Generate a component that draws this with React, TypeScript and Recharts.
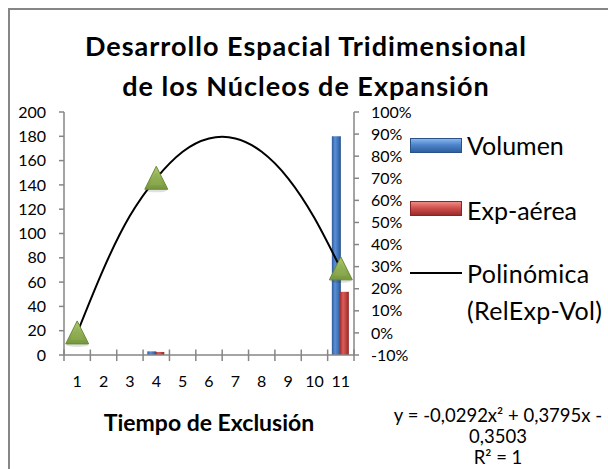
import React from 'react';
import { ComposedChart, Bar, Line, XAxis, YAxis, ReferenceLine } from 'recharts';

// ---- data ----
const categories = ['1', '2', '3', '4', '5', '6', '7', '8', '9', '10', '11'];
const volumen: (number | null)[] = [null, null, null, 3, null, null, null, null, null, null, 180];
const expAerea: (number | null)[] = [null, null, null, 2.5, null, null, null, null, null, null, 52];
const relExpVol: (number | null)[] = [0.0, null, null, 0.7, null, null, null, null, null, null, 0.29];
const polinomica: number[] = [0.0, 0.29, 0.53, 0.7, 0.82, 0.88, 0.88, 0.82, 0.7, 0.52, 0.29];
const leftTicks = [0, 20, 40, 60, 80, 100, 120, 140, 160, 180, 200];
const rightTicks = [-0.1, 0, 0.1, 0.2, 0.3, 0.4, 0.5, 0.6, 0.7, 0.8, 0.9, 1.0];
const boundaryTicks = [0.5, 1.5, 2.5, 3.5, 4.5, 5.5, 6.5, 7.5, 8.5, 9.5, 10.5, 11.5];

const titleLines = ['Desarrollo Espacial Tridimensional', 'de los Núcleos de Expansión'];
const xTitle = 'Tiempo de Exclusión';
const equationLines = ['y = -0,0292x² + 0,3795x -', '0,3503', 'R² = 1'];

const data = categories.map((c, i) => ({
  cat: c,
  pos: i + 1,
  volumen: volumen[i],
  expAerea: expAerea[i],
  relExpVol: relExpVol[i],
  polinomica: polinomica[i],
}));

const FONT = 'Lato, "Open Sans", sans-serif';
const AXIS = '#868686';

const TriangleDot = (props: any) => {
  const { cx, cy, payload } = props;
  if (!payload || payload.relExpVol == null || cx == null || cy == null || isNaN(cy)) return <g />;
  const pts = `${cx},${cy - 12} ${cx - 11.5},${cy + 11} ${cx + 11.5},${cy + 11}`;
  const inner = `${cx},${cy - 6} ${cx - 6.5},${cy + 7} ${cx + 6.5},${cy + 7}`;
  return (
    <g>
      <ellipse cx={cx} cy={cy + 12} rx={11} ry={2} fill="#000" opacity={0.12} />
      <polygon points={pts} fill="url(#triG)" stroke="#6b8a35" strokeWidth={1} />
      <polygon points={inner} fill="#8fae52" opacity={0.5} />
    </g>
  );
};

const abs = (s: React.CSSProperties): React.CSSProperties => ({ position: 'absolute', fontFamily: FONT, color: '#000', whiteSpace: 'nowrap', ...s });

export default function App() {
  return (
    <div style={{ position: 'absolute', left: 0, top: 0, width: 608, height: 469, overflow: 'hidden', background: '#fff' }}>
      <div style={{ position: 'absolute', left: 8, top: 8, width: 700, height: 600, borderLeft: `2px solid ${AXIS}`, borderTop: `2px solid ${AXIS}` }} />
      <div style={{ position: 'absolute', left: 0, top: 0 }}>
        <ComposedChart
          width={608}
          height={469}
          data={data}
          margin={{ top: 112, right: 184, bottom: 84, left: 0 }}
          barCategoryGap="16%"
          barGap={-1}
          style={{ fontFamily: FONT }}
        >
          <defs>
            <linearGradient id="blueG" x1="0" y1="0" x2="1" y2="0">
              <stop offset="0%" stopColor="#2a5a98" />
              <stop offset="35%" stopColor="#5b8fd6" />
              <stop offset="70%" stopColor="#3f73b8" />
              <stop offset="100%" stopColor="#22508a" />
            </linearGradient>
            <linearGradient id="redG" x1="0" y1="0" x2="1" y2="0">
              <stop offset="0%" stopColor="#9a2e2b" />
              <stop offset="35%" stopColor="#dc5c58" />
              <stop offset="70%" stopColor="#bd423e" />
              <stop offset="100%" stopColor="#8a2622" />
            </linearGradient>
            <linearGradient id="triG" x1="0" y1="0" x2="0" y2="1">
              <stop offset="0%" stopColor="#aecb70" />
              <stop offset="100%" stopColor="#76963d" />
            </linearGradient>
          </defs>
          <XAxis
            dataKey="cat"
            axisLine={{ stroke: AXIS, strokeWidth: 1.5 }}
            tickLine={false}
            tickSize={6}
            tickMargin={15}
            interval={0}
            tick={{ fontSize: 16, fill: '#000', fontFamily: FONT }}
            height={30}
          />
          <XAxis xAxisId="num" type="number" dataKey="pos" domain={[0.5, 11.5]} allowDataOverflow hide />
          <YAxis
            yAxisId="left"
            domain={[0, 200]}
            ticks={leftTicks}
            interval={0}
            width={64}
            tickSize={5}
            tickMargin={13}
            axisLine={{ stroke: AXIS, strokeWidth: 1.5 }}
            tickLine={{ stroke: AXIS, strokeWidth: 1.5 }}
            tick={{ fontSize: 16, fill: '#000', fontFamily: FONT }}
          />
          <YAxis
            yAxisId="right"
            orientation="right"
            domain={[-0.1, 1.0]}
            ticks={rightTicks}
            interval={0}
            width={70}
            tickSize={5}
            tickMargin={12}
            axisLine={{ stroke: AXIS, strokeWidth: 1.5 }}
            tickLine={{ stroke: AXIS, strokeWidth: 1.5 }}
            tick={{ fontSize: 16, fill: '#000', fontFamily: FONT }}
            tickFormatter={(v: number) => `${Math.round(v * 100)}%`}
          />
          {boundaryTicks.map((b) => (
            <ReferenceLine
              key={b}
              xAxisId="num"
              yAxisId="left"
              segment={[{ x: b, y: -5 }, { x: b, y: 4.5 }]}
              stroke={AXIS}
              strokeWidth={1.5}
              ifOverflow="visible"
            />
          ))}
          <Bar yAxisId="left" dataKey="volumen" name="Volumen" fill="url(#blueG)" isAnimationActive={false} />
          <Bar yAxisId="left" dataKey="expAerea" name="Exp-aérea" fill="url(#redG)" isAnimationActive={false} />
          <Line
            xAxisId="num"
            yAxisId="right"
            dataKey="relExpVol"
            name="RelExp-Vol"
            stroke="none"
            dot={<TriangleDot />}
            activeDot={false}
            isAnimationActive={false}
          />
          <Line
            xAxisId="num"
            yAxisId="right"
            dataKey="polinomica"
            name="Polinómica (RelExp-Vol)"
            type="natural"
            stroke="#000"
            strokeWidth={2}
            dot={false}
            activeDot={false}
            isAnimationActive={false}
          />
        </ComposedChart>
      </div>

      {/* title */}
      <div style={abs({ left: 56, width: 500, top: 26.3, textAlign: 'center', fontWeight: 700, fontSize: 27, letterSpacing: 1, lineHeight: '40px' })}>
        {titleLines.map((t) => (
          <div key={t}>{t}</div>
        ))}
      </div>

      {/* legend */}
      <div style={abs({ left: 410, top: 138, width: 52, height: 15, boxSizing: 'border-box', border: '1px solid #2a5288', background: 'linear-gradient(to bottom, #86b6ee, #4f84cb 45%, #2f5f9f)' })} />
      <div style={abs({ left: 467, top: 130, height: 30, lineHeight: '30px', fontSize: 25 })}>Volumen</div>
      <div style={abs({ left: 410, top: 201, width: 52, height: 15, boxSizing: 'border-box', border: '1px solid #8a2622', background: 'linear-gradient(to bottom, #ee8a86, #d0504c 45%, #9a2e2b)' })} />
      <div style={abs({ left: 467, top: 195, height: 30, lineHeight: '30px', fontSize: 25 })}>Exp-aérea</div>
      <div style={abs({ left: 410, top: 272, width: 52, height: 2, background: '#000' })} />
      <div style={abs({ left: 467, top: 255, lineHeight: '37px', fontSize: 25, letterSpacing: 0.3 })}>
        <div>Polinómica</div>
        <div>(RelExp-Vol)</div>
      </div>

      {/* x axis title */}
      <div style={abs({ left: 59, width: 300, top: 409, textAlign: 'center', fontWeight: 700, fontSize: 23, lineHeight: '27px' })}>{xTitle}</div>

      {/* trendline equation */}
      <div style={abs({ left: 368, width: 260, top: 405, textAlign: 'center', fontSize: 18.5, lineHeight: '21px' })}>
        {equationLines.map((t) => (
          <div key={t}>{t}</div>
        ))}
      </div>
    </div>
  );
}
